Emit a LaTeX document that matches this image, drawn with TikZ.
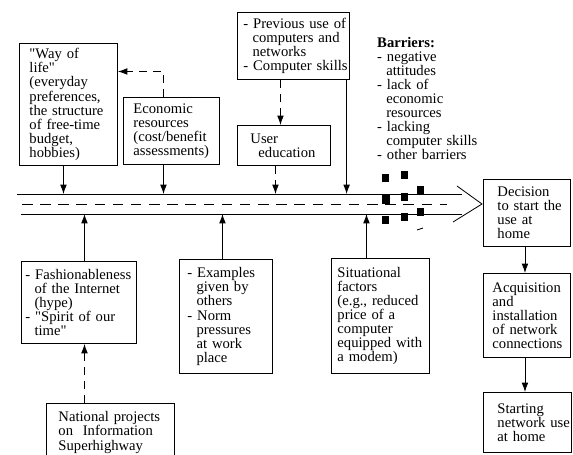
\documentclass[tikz,border=0pt]{standalone}
\usepackage{fontspec}
\setmainfont{Liberation Serif}[Ligatures=TeXOff]
\usetikzlibrary{arrows.meta}
\newcommand{\boxfont}{\fontsize{12.5}{12}\selectfont}
\newcommand{\cont}{\hspace*{0.62em}}
\tikzset{
  box/.style={draw=black, line width=0.8pt, anchor=north west, align=left,
    inner xsep=0pt, inner ysep=0pt, font=\boxfont},
  pad/.style={execute at begin node={\leftskip=#1\relax}},
  link/.style={line width=0.7pt, arrows={-Latex[length=2.8mm,width=2mm]}},
  soft link/.style={link, dash pattern=on 7pt off 5pt},
  lane/.style={line width=0.7pt},
  lane middle/.style={line width=0.7pt, dash pattern=on 9pt off 6.5pt},
  barrier/.style={fill=black},
  barrier label/.style={anchor=base west, inner sep=0pt, align=left,
    text width=50mm, font=\boxfont}
}
\begin{document}
\begin{tikzpicture}[x=0.3mm, y=-0.3mm]
  \useasboundingbox (0,0) rectangle (573,454);
  \clip (0,0) rectangle (573,454);

  % boxes above the lane
  \node[box, pad=3mm, text width=29.4mm, minimum height=36.6mm] at (19,43) (life)
    {"Way of\\ life"\\ (everyday\\ preferences,\\ the structure\\ of free-time\\ budget,\\ hobbies)};
  \node[box, pad=3mm, text width=28.8mm, minimum height=20.1mm] at (123,97) (econ)
    {Economic\\ resources\\ (cost/benefit\\ assessments)};
  \node[box, pad=1.8mm, text width=33.6mm, minimum height=20.1mm] at (237,12) (prev)
    {- Previous use of\\ \cont computers and\\ \cont networks\\ - Computer skills};
  \node[box, pad=3.9mm, text width=27.9mm, minimum height=12mm] at (237,125) (user)
    {User\\ \hspace*{2.4mm}education};
  \node[barrier label] at (377,47) (barriers)
    {\textbf{Barriers:}\\ - negative\\ \cont attitudes\\ - lack of\\ \cont economic\\ \cont resources\\
     - lacking\\ \cont computer skills\\ - other barriers};

  % boxes below the lane
  \node[box, pad=1.2mm, text width=34.5mm, minimum height=24.6mm] at (21,261) (fash)
    {- Fashionableness\\ \cont of the Internet\\ \cont (hype)\\ - "Spirit of our\\ \cont time"};
  \node[box, pad=3.6mm, text width=38.4mm, minimum height=17.4mm] at (46,403) (nat)
    {National projects\\ on~~Information\\ Superhighway};
  \node[box, pad=2.4mm, text width=27.9mm, minimum height=34.2mm] at (179,259) (exam)
    {- Examples\\ \cont given by\\ \cont others\\ - Norm\\ \cont pressures\\ \cont at work\\ \cont place};
  \node[box, pad=1.8mm, text width=29.4mm, minimum height=34.5mm] at (331,258) (sit)
    {Situational\\ factors\\ (e.g., reduced\\ price of a\\ computer\\ equipped with\\ a modem)};

  % steps at the right
  \node[box, pad=4.2mm, text width=26.1mm, minimum height=20.1mm] at (483,179) (dec)
    {Decision\\ to start the\\ use at\\ home};
  \node[box, pad=2.7mm, text width=26.1mm, minimum height=25.2mm] at (483,273) (acq)
    {Acquisition\\ and\\ installation\\ of network\\ connections};
  \node[box, pad=4.2mm, text width=26.4mm, minimum height=18mm] at (483,392) (start)
    {Starting\\ network use\\ at home};

  % the lane towards the decision
  \coordinate (lane top) at (17,194);
  \coordinate (lane bottom) at (21,214);
  \coordinate (lane middle) at (22,204);
  \coordinate (lane tip) at (482,204);
  \draw[lane] (lane top) -- (462,194);
  \draw[lane] (lane bottom) -- (462,214);
  \draw[lane middle] (lane middle) -- (447,204);
  \draw[lane] (457,186) -- (lane tip) -- (453,222);
  \draw[lane] (417,230) -- (423,228);

  \foreach \x/\y in {385/178, 404/175, 404/197, 420/190, 385/220, 404/217, 420/212}
    \fill[barrier] (\x-3.5,\y-4) rectangle (\x+3.5,\y+4);
  \fill[barrier] (381.5,194) rectangle (389.5,204);

  % influences
  \draw[link] ([xshift=-1.5mm]life.south) -- ([xshift=-1.5mm]life.south |- lane top);
  \draw[link] ([xshift=-2.4mm]econ.south) -- ([xshift=-2.4mm]econ.south |- lane top);
  \draw[soft link] ([xshift=-2.4mm]econ.north) |- ([yshift=9.9mm]life.east);
  \draw[soft link] ([xshift=-3.9mm]prev.south) -- ([xshift=-3.9mm]prev.south |- user.north);
  \draw[soft link] ([xshift=-2.55mm]user.south) -- ([xshift=-2.55mm]user.south |- lane top);
  \draw[link] ([xshift=-1mm]prev.south east) -- ([xshift=-1mm]prev.south east |- lane top);
  \draw[link] ([xshift=1.65mm]fash.north) -- ([xshift=1.65mm]fash.north |- lane bottom);
  \draw[soft link] ([xshift=1.65mm]fash.south |- nat.north) -- ([xshift=1.65mm]fash.south);
  \draw[link] ([xshift=-1.05mm]exam.north) -- ([xshift=-1.05mm]exam.north |- lane bottom);
  \draw[link] ([xshift=-4.2mm]sit.north) -- ([xshift=-4.2mm]sit.north |- lane bottom);
  \draw[link] ([xshift=-0.6mm]dec.south) -- ([xshift=-0.6mm]dec.south |- acq.north);
  \draw[link] ([xshift=-0.6mm]acq.south) -- ([xshift=-0.6mm]acq.south |- start.north);
\end{tikzpicture}
\end{document}
